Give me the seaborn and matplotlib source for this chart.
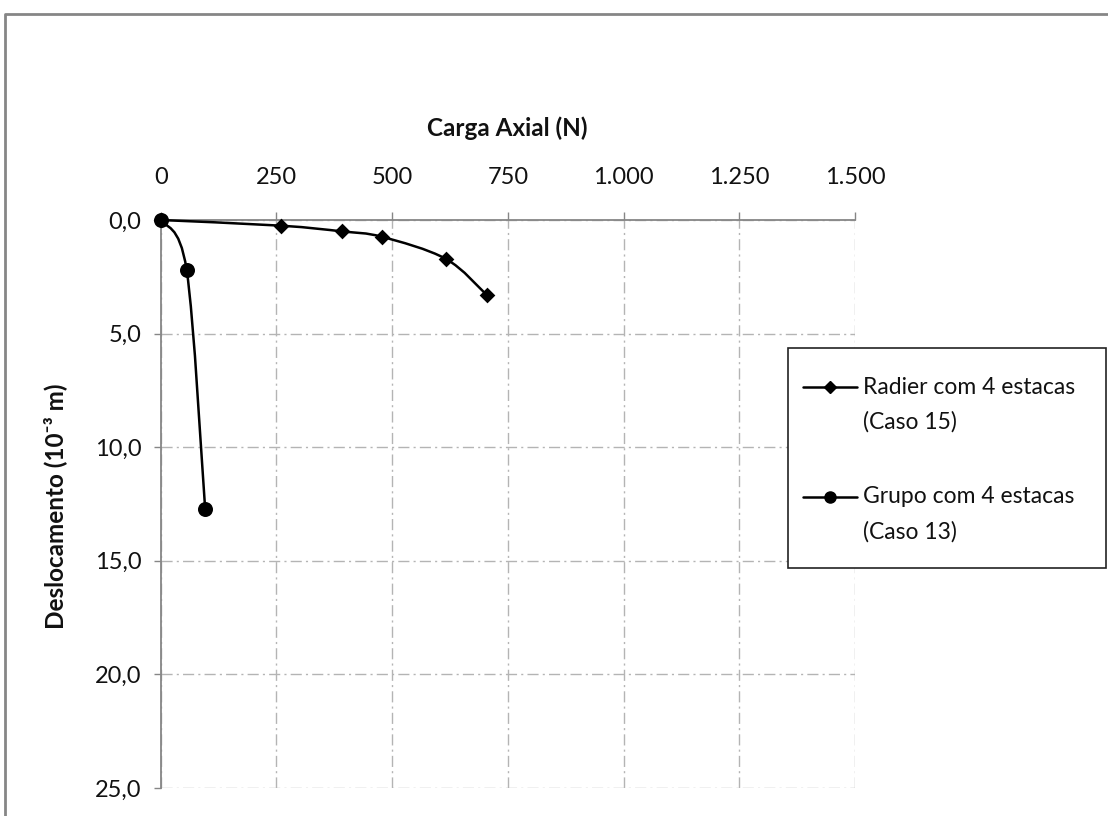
import numpy as np
import pandas as pd
import matplotlib
matplotlib.use("Agg")
import matplotlib.pyplot as plt
import seaborn as sns
from matplotlib.path import Path
from matplotlib.patches import PathPatch, Rectangle
from matplotlib.lines import Line2D
from matplotlib.ticker import FuncFormatter

# Radier com 4 estacas (Caso 15)
radier_carga = [0, 260, 391, 478, 616, 704]
radier_desloc = [0.0, 0.25, 0.50, 0.74, 1.71, 3.29]

# Grupo com 4 estacas (Caso 13)
grupo_carga = [0, 56, 96]
grupo_desloc = [0.0, 2.2, 12.7]

series_labels = ["Radier com 4 estacas\n(Caso 15)", "Grupo com 4 estacas\n(Caso 13)"]
x_ticks = [0, 250, 500, 750, 1000, 1250, 1500]
y_ticks = [0, 5, 10, 15, 20, 25]

W, H = 1108, 816
GRID = '#b4b4b4'
SPINE = '#868686'
TXT = '#111111'


def smooth_path(xs, ys):
    # bezier smoothing like the spreadsheet "smoothed line" option
    pts = np.column_stack([xs, ys]).astype(float)
    n = len(pts)
    verts = [pts[0]]
    codes = [Path.MOVETO]
    for i in range(n - 1):
        p0 = pts[max(i - 1, 0)]
        p1 = pts[i]
        p2 = pts[i + 1]
        p3 = pts[min(i + 2, n - 1)]
        verts += [p1 + (p2 - p0) / 6, p2 - (p3 - p1) / 6, p2]
        codes += [Path.CURVE4] * 3
    return Path(verts, codes)


def fx(px):
    return px / W


def fy(py):
    return 1 - py / H


sns.set_style("white")
plt.rcParams['font.family'] = ['Lato', 'DejaVu Sans']

fig = plt.figure(figsize=(W / 100, H / 100), dpi=100)
ax = fig.add_axes([fx(160.7), fy(788), fx(855) - fx(160.7), fy(220) - fy(788)])

df_r = pd.DataFrame({'carga': radier_carga, 'desloc': radier_desloc})
df_g = pd.DataFrame({'carga': grupo_carga, 'desloc': grupo_desloc})

ax.add_patch(PathPatch(smooth_path(radier_carga, radier_desloc), fill=False,
                       edgecolor='black', lw=1.8, zorder=3, clip_on=False))
sns.scatterplot(data=df_r, x='carga', y='desloc', marker='D', s=8 ** 2,
                color='black', linewidth=0, ax=ax, zorder=4, legend=False)
ax.add_patch(PathPatch(smooth_path(grupo_carga, grupo_desloc), fill=False,
                       edgecolor='black', lw=1.8, zorder=3, clip_on=False))
sns.scatterplot(data=df_g, x='carga', y='desloc', marker='o', s=10.8 ** 2,
                color='black', linewidth=0, ax=ax, zorder=5, legend=False)
for coll in ax.collections:
    coll.set_clip_on(False)

ax.set_xlim(0, 1500)
ax.set_ylim(25, 0)
ax.set_xticks(x_ticks)
ax.set_yticks(y_ticks)
ax.xaxis.set_major_formatter(FuncFormatter(lambda v, p: f"{int(v):,}".replace(",", ".")))
ax.yaxis.set_major_formatter(FuncFormatter(lambda v, p: f"{v:.1f}".replace(".", ",")))

ax.xaxis.tick_top()
ax.tick_params(axis='x', top=True, bottom=False, labeltop=True, labelbottom=False,
               direction='out', length=5.8, width=1, pad=17, color=SPINE,
               labelsize=17, labelcolor=TXT)
ax.tick_params(axis='y', left=True, direction='out', length=5, width=1, pad=9,
               color=SPINE, labelsize=17, labelcolor=TXT)

ax.grid(True, color=GRID, lw=1, linestyle=(0, (8, 3, 1.5, 3)))
for s in ['right', 'bottom']:
    ax.spines[s].set_visible(False)
for s in ['left', 'top']:
    ax.spines[s].set_color(SPINE)
    ax.spines[s].set_linewidth(1.3)
    ax.spines[s].set_zorder(2.5)

ax.xaxis.set_label_position('top')
ax.set_xlabel("Carga Axial (N)", fontsize=17.5, fontweight='bold', color=TXT)
ax.xaxis.set_label_coords(0.4995, (788 - 128) / 568)
ax.xaxis.label.set_verticalalignment('center')
ax.set_ylabel("Deslocamento (10⁻³ m)", fontsize=17.5, fontweight='bold', color=TXT)
ax.yaxis.set_label_coords((55 - 160.7) / 694.3, (788 - 506) / 568)
ax.yaxis.label.set_verticalalignment('center')

# outer chart frame
fig.add_artist(Line2D([fx(5), fx(5), fx(W)], [0, fy(14), fy(14)], color=SPINE, lw=2))

# legend box
fig.add_artist(Rectangle((fx(788), fy(568)), fx(1106) - fx(788), fy(348) - fy(568),
                         facecolor='white', edgecolor='#222222', lw=1.2, zorder=6))
legend_rows = [(387, 'D', 6), (497, 'o', 8)]
for (py, mk, ms), lab in zip(legend_rows, series_labels):
    fig.add_artist(Line2D([fx(803), fx(857)], [fy(py), fy(py)], color='black',
                          lw=1.8, zorder=7))
    fig.add_artist(Line2D([fx(830)], [fy(py)], color='black', marker=mk,
                          markersize=ms, lw=0, zorder=7))
    for k, line in enumerate(lab.split("\n")):
        fig.text(fx(863), fy(py + 35 * k), line, fontsize=16.5, color=TXT,
                 va='center', ha='left', zorder=8)

fig.savefig("out.png", dpi=100)
